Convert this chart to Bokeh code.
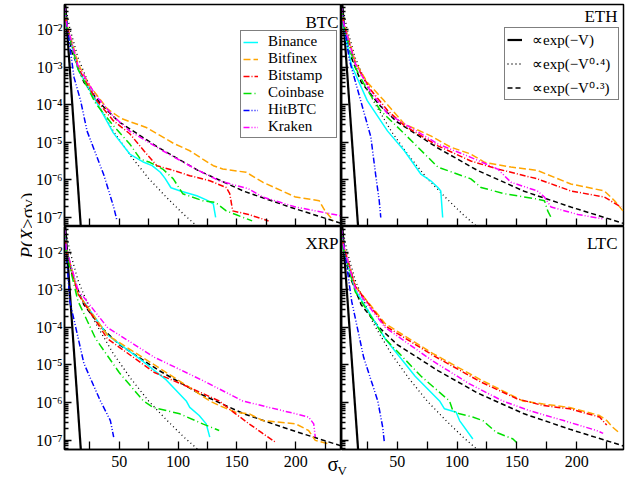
from bokeh.plotting import figure
from bokeh.models import Range1d, FixedTicker, Label, Legend, LegendItem
from bokeh.layouts import row, column
from bokeh.embed import file_html
from bokeh.resources import INLINE

# ---------------- data ----------------
exchanges = ["Binance", "Bitfinex", "Bitstamp", "Coinbase", "HitBTC", "Kraken"]
panel_names = ["BTC", "ETH", "XRP", "LTC"]

x_major_ticks = [50, 100, 150, 200]
x_minor_ticks = [25, 75, 125, 175, 225]
y_major_ticks = [1e-7, 1e-6, 1e-5, 1e-4, 1e-3, 1e-2]
y_tick_labels = ["10⁻⁷", "10⁻⁶", "10⁻⁵", "10⁻⁴", "10⁻³", "10⁻²"]

# reference curves
ref_exp_x = [4, 18]
ref_exp_p = [5.8e-2, 2.9e-8]
ref_s04_x = [4, 8, 15, 30, 45, 60, 75, 90, 105, 120]
ref_s04_p = [5.1e-2, 1.1e-2, 1.8e-3, 1.3e-4, 2.0e-5, 4.3e-6, 1.1e-6, 3.5e-7, 1.2e-7, 4.6e-8]
ref_s03_x = [4, 10, 20, 35, 50, 84, 117, 156, 195, 240]
ref_s03_p = [2.0e-2, 2.5e-3, 4.0e-4, 1.0e-4, 3.5e-5, 7.1e-6, 1.8e-6, 5.0e-7, 1.9e-7, 6.8e-8]

# BTC
btc_binance_x = [3.6, 5, 15, 30, 45, 59, 71, 78, 85, 89, 94, 102, 116, 124, 130, 132]
btc_binance_p = [4.0e-2, 1.4e-2, 8.9e-4, 1.3e-4, 1.8e-5, 4.9e-6, 2.95e-6, 2.4e-6, 1.6e-6, 1.1e-6, 6.2e-7, 5.1e-7, 3.8e-7, 2.95e-7, 2.3e-7, 1.0e-7]
btc_bitfinex_x = [3.6, 5, 15, 25, 40, 52, 73, 96, 110, 121, 130, 138, 158, 172, 200, 220, 225, 232]
btc_bitfinex_p = [4.0e-2, 1.6e-2, 1.26e-3, 3.2e-4, 7.8e-5, 4.3e-5, 2.5e-5, 9.5e-6, 6.0e-6, 3.6e-6, 2.4e-6, 1.95e-6, 1.6e-6, 8.7e-7, 3.5e-7, 2.8e-7, 1.5e-7, 8.3e-8]
btc_bitstamp_x = [3.6, 5, 15, 30, 45, 59, 71, 82, 96, 110, 127, 141, 144, 146.5, 160, 177]
btc_bitstamp_p = [4.0e-2, 1.4e-2, 1.0e-3, 1.4e-4, 3.8e-5, 1.7e-5, 6.0e-6, 2.4e-6, 1.8e-6, 1.3e-6, 9.5e-7, 6.3e-7, 4.3e-7, 1.5e-7, 1.2e-7, 8.1e-8]
btc_coinbase_x = [3.6, 5, 15, 30, 45, 59, 68, 76, 87, 96, 104, 121, 132, 141, 149, 163]
btc_coinbase_p = [4.0e-2, 1.4e-2, 8.9e-4, 1.1e-4, 2.8e-5, 9.1e-6, 3.6e-6, 2.95e-6, 1.95e-6, 1.07e-6, 4.3e-7, 2.8e-7, 2.5e-7, 1.5e-7, 1.2e-7, 8.1e-8]
btc_hitbtc_x = [3.6, 11.6, 17.2, 22.7, 31.2, 36.8, 45.3, 48.1]
btc_hitbtc_p = [4.0e-2, 5.4e-4, 1.3e-4, 2.0e-5, 4.0e-6, 1.4e-6, 1.9e-7, 8.3e-8]
btc_kraken_x = [3.6, 5, 15, 30, 45, 59, 87, 115, 135, 160, 172, 200, 233, 239]
btc_kraken_p = [4.0e-2, 1.6e-2, 1.1e-3, 1.8e-4, 5.0e-5, 2.0e-5, 6.0e-6, 1.95e-6, 9.5e-7, 5.8e-7, 3.5e-7, 1.9e-7, 1.2e-7, 1.1e-7]

# ETH
eth_binance_x = [3.6, 5, 12, 25, 42, 56, 70, 78, 84, 86.4, 88]
eth_binance_p = [4.0e-2, 1.26e-2, 1.1e-3, 1.3e-4, 2.0e-5, 6.0e-6, 1.4e-6, 9.5e-7, 6.3e-7, 5.1e-7, 1.0e-7]
eth_bitfinex_x = [3.6, 5, 15, 25, 39, 56, 78, 95, 111.5, 123, 145, 167, 195, 223, 231.5, 238.5]
eth_bitfinex_p = [4.0e-2, 1.8e-2, 1.4e-3, 4.0e-4, 1.3e-4, 3.1e-5, 1.5e-5, 7.4e-6, 4.9e-6, 2.95e-6, 2.2e-6, 1.8e-6, 7.8e-7, 5.1e-7, 2.8e-7, 1.5e-7]
eth_bitstamp_x = [3.6, 5, 15, 28, 42, 56, 84, 111.5, 134, 145, 167, 195, 223, 237]
eth_bitstamp_p = [4.0e-2, 1.6e-2, 1.26e-3, 2.5e-4, 7.1e-5, 2.8e-5, 8.1e-6, 3.2e-6, 1.95e-6, 1.6e-6, 1.07e-6, 5.1e-7, 3.5e-7, 1.9e-7]
eth_coinbase_x = [3.6, 5, 15, 25, 36, 56, 84, 111.5, 120, 139.5, 167, 173, 175.7, 178.5]
eth_coinbase_p = [4.0e-2, 1.4e-2, 1.0e-3, 2.5e-4, 7.1e-5, 1.7e-5, 2.2e-6, 1.07e-6, 6.3e-7, 4.3e-7, 3.1e-7, 2.8e-7, 1.5e-7, 1.0e-7]
eth_hitbtc_x = [3.6, 10, 19.5, 28, 32, 35, 36.3]
eth_hitbtc_p = [4.0e-2, 1.6e-3, 1.3e-4, 1.4e-5, 1.4e-6, 2.8e-7, 1.0e-7]
eth_kraken_x = [3.6, 5, 15, 28, 42, 70, 84, 111.5, 134, 145, 167, 173, 178.5, 201, 223]
eth_kraken_p = [4.0e-2, 1.6e-2, 1.26e-3, 2.2e-4, 5.8e-5, 1.7e-5, 9.1e-6, 4.0e-6, 1.95e-6, 8.7e-7, 5.1e-7, 3.5e-7, 1.9e-7, 1.2e-7, 9.1e-8]

# XRP
xrp_binance_x = [3.6, 5, 15, 40, 70, 90, 107, 110, 118, 124, 127]
xrp_binance_p = [4.0e-2, 1.26e-2, 7.9e-4, 6.3e-5, 1.26e-5, 4.0e-6, 1.1e-6, 7.4e-7, 4.5e-7, 2.7e-7, 1.2e-7]
xrp_bitfinex_x = [3.6, 5, 15, 40, 80, 110, 127, 135, 149, 160.5, 172, 200, 211, 216.7, 228]
xrp_bitfinex_p = [4.0e-2, 1.26e-2, 7.9e-4, 6.3e-5, 1.0e-5, 2.5e-6, 1.1e-6, 8.3e-7, 5.5e-7, 5.0e-7, 3.3e-7, 2.7e-7, 1.8e-7, 9.8e-8, 7.9e-8]
xrp_bitstamp_x = [3.6, 5, 15, 40, 80, 110, 135, 149, 160.5, 172, 183]
xrp_bitstamp_p = [4.0e-2, 1.0e-2, 7.9e-4, 5.0e-5, 6.3e-6, 2.5e-6, 1.1e-6, 5.0e-7, 2.7e-7, 1.5e-7, 8.7e-8]
xrp_coinbase_x = [3.6, 5, 15, 30, 50, 70.6, 79, 101.5, 121, 135]
xrp_coinbase_p = [4.0e-2, 1.0e-2, 5.0e-4, 5.0e-5, 6.3e-6, 1.1e-6, 7.4e-7, 5.0e-7, 2.7e-7, 1.8e-7]
xrp_hitbtc_x = [3.6, 8, 20, 34, 39.6, 42.5, 45.3]
xrp_hitbtc_p = [4.0e-2, 5.0e-4, 1.1e-5, 1.1e-6, 5.0e-7, 3.3e-7, 1.2e-7]
xrp_kraken_x = [3.6, 5, 15, 40, 80, 120, 155, 200, 211, 215.4, 216.7]
xrp_kraken_p = [4.0e-2, 1.26e-2, 1.0e-3, 1.0e-4, 1.6e-5, 4.0e-6, 1.1e-6, 5.0e-7, 4.1e-7, 2.7e-7, 1.2e-7]

# LTC
ltc_binance_x = [3.6, 5, 15, 40, 65, 85.4, 89.5, 99.3, 102.1, 113.2]
ltc_binance_p = [4.0e-2, 1.26e-2, 1.0e-3, 5.0e-5, 5.0e-6, 1.1e-6, 6.8e-7, 5.5e-7, 3.3e-7, 1.07e-7]
ltc_bitfinex_x = [3.6, 5, 15, 40, 80, 120, 155, 172, 194, 219, 225, 230, 236]
ltc_bitfinex_p = [4.0e-2, 1.6e-2, 1.26e-3, 1.26e-4, 2.0e-5, 4.0e-6, 1.1e-6, 9.1e-7, 7.4e-7, 4.5e-7, 3.3e-7, 2.2e-7, 1.5e-7]
ltc_bitstamp_x = [3.6, 5, 15, 40, 80, 120, 150, 172, 194, 219, 225]
ltc_bitstamp_p = [4.0e-2, 1.6e-2, 1.26e-3, 1.1e-4, 1.8e-5, 3.5e-6, 1.26e-6, 8.3e-7, 6.8e-7, 4.1e-7, 2.5e-7]
ltc_coinbase_x = [3.6, 5, 15, 40, 70, 93.7, 96.5, 102, 113, 121.6, 132.8, 146.7, 149.5]
ltc_coinbase_p = [4.0e-2, 1.26e-2, 8.9e-4, 5.0e-5, 5.0e-6, 1.1e-6, 6.0e-7, 5.0e-7, 4.1e-7, 3.3e-7, 1.6e-7, 1.07e-7, 8.7e-8]
ltc_hitbtc_x = [3.6, 12, 22, 33.8, 37.9, 39.3]
ltc_hitbtc_p = [4.0e-2, 5.0e-4, 1.6e-5, 1.1e-6, 2.2e-7, 8.7e-8]
ltc_kraken_x = [3.6, 5, 15, 40, 80, 110, 138, 161, 189, 216.5, 222]
ltc_kraken_p = [4.0e-2, 1.6e-2, 1.1e-3, 1.0e-4, 1.26e-5, 3.2e-6, 1.1e-6, 6.0e-7, 3.3e-7, 1.8e-7, 1.5e-7]

# ---------------- assemble ----------------
series = {
    "BTC": [(btc_binance_x, btc_binance_p), (btc_bitfinex_x, btc_bitfinex_p), (btc_bitstamp_x, btc_bitstamp_p),
            (btc_coinbase_x, btc_coinbase_p), (btc_hitbtc_x, btc_hitbtc_p), (btc_kraken_x, btc_kraken_p)],
    "ETH": [(eth_binance_x, eth_binance_p), (eth_bitfinex_x, eth_bitfinex_p), (eth_bitstamp_x, eth_bitstamp_p),
            (eth_coinbase_x, eth_coinbase_p), (eth_hitbtc_x, eth_hitbtc_p), (eth_kraken_x, eth_kraken_p)],
    "XRP": [(xrp_binance_x, xrp_binance_p), (xrp_bitfinex_x, xrp_bitfinex_p), (xrp_bitstamp_x, xrp_bitstamp_p),
            (xrp_coinbase_x, xrp_coinbase_p), (xrp_hitbtc_x, xrp_hitbtc_p), (xrp_kraken_x, xrp_kraken_p)],
    "LTC": [(ltc_binance_x, ltc_binance_p), (ltc_bitfinex_x, ltc_bitfinex_p), (ltc_bitstamp_x, ltc_bitstamp_p),
            (ltc_coinbase_x, ltc_coinbase_p), (ltc_hitbtc_x, ltc_hitbtc_p), (ltc_kraken_x, ltc_kraken_p)],
}

colors = ["#00FFFF", "#FFA500", "#FF0000", "#00E000", "#0000FF", "#FF00FF"]
dashes = ["solid", "7 3", "6 2 1 2", "8 3 1 3", "6 2 1 2 1 2", "6 2 1 2 1 2"]

FONT = "Liberation Serif"
X_RANGE = (3.5, 239.0)
Y_RANGE_TOP = (5.75e-8, 4.73e-2)
Y_RANGE_BOTTOM = (5.6e-8, 4.9e-2)

y_minor = [m * 10.0 ** e for e in range(-8, -1) for m in range(2, 10)]

LEFT_BORDER = 29
YLAB_W = 32
LABEL_DROP = {"BTC": 18, "ETH": 12, "XRP": 17, "LTC": 17}


def make_panel(name, top, left):
    fw = 280 if left else 282
    fh = 222 if top else 223
    bl = LEFT_BORDER if left else 0
    br = 0 if left else 4
    bt = 4 if top else 0
    bb = 0 if top else 26
    yr = Y_RANGE_TOP if top else Y_RANGE_BOTTOM
    p = figure(width=fw + bl + br, height=fh + bt + bb,
               x_range=Range1d(*X_RANGE), y_range=Range1d(*yr),
               y_axis_type="log", output_backend="svg", toolbar_location=None,
               min_border_left=bl, min_border_right=br, min_border_top=bt, min_border_bottom=bb)
    p.grid.visible = False
    p.outline_line_color = "black"
    p.outline_line_width = 1.5
    p.background_fill_color = "white"
    p.border_fill_color = "white"

    xa = p.xaxis[0]
    xa.ticker = FixedTicker(ticks=x_major_ticks, minor_ticks=x_minor_ticks)
    ya = p.yaxis[0]
    ya.ticker = FixedTicker(ticks=y_major_ticks, minor_ticks=y_minor)
    ya.major_label_overrides = dict(zip(y_major_ticks, y_tick_labels))
    for ax in (xa, ya):
        ax.axis_line_color = "black"
        ax.axis_line_width = 1.5
        ax.major_tick_line_color = "black"
        ax.minor_tick_line_color = "black"
        ax.major_tick_line_width = 1.3
        ax.minor_tick_line_width = 1.3
        ax.major_tick_out = 0
        ax.minor_tick_out = 0
        ax.major_label_text_font = FONT
        ax.major_label_text_color = "black"
        ax.major_label_text_font_size = "16px"
    xa.major_tick_in = 8
    xa.minor_tick_in = 8
    ya.major_tick_in = 7
    ya.minor_tick_in = 4
    xa.major_label_standoff = 6
    ya.major_label_standoff = 2
    if top:
        xa.major_label_text_color = None
        xa.major_label_standoff = 0
    if not left:
        ya.major_label_text_color = None
        ya.major_label_standoff = 0

    # reference curves
    r_exp = p.line(ref_exp_x, ref_exp_p, line_color="black", line_width=2.2)
    r_04 = p.line(ref_s04_x, ref_s04_p, line_color="black", line_width=1.3, line_dash="1 3")
    r_03 = p.line(ref_s03_x, ref_s03_p, line_color="black", line_width=1.5, line_dash="5 3")

    rends = []
    for (xs, ps), c, d in zip(series[name], colors, dashes):
        rends.append(p.line(xs, ps, line_color=c, line_width=1.5, line_dash=d))

    p.add_layout(Label(x=fw - 6, y=fh - LABEL_DROP[name], x_units="screen", y_units="screen", text=name,
                       text_align="right", text_baseline="alphabetic", text_font=FONT,
                       text_font_size="17px", text_color="black"))
    return p, rends, (r_exp, r_04, r_03)


p_btc, btc_rends, _ = make_panel("BTC", True, True)
p_eth, _, refs = make_panel("ETH", True, False)
p_xrp, _, _ = make_panel("XRP", False, True)
p_ltc, _, _ = make_panel("LTC", False, False)

leg1 = Legend(items=[LegendItem(label=n, renderers=[r]) for n, r in zip(exchanges, btc_rends)],
              location=(176, 88), orientation="vertical")
leg2 = Legend(items=[LegendItem(label="∝exp(−V)", renderers=[refs[0]]),
                     LegendItem(label="∝exp(−V⁰·⁴)", renderers=[refs[1]]),
                     LegendItem(label="∝exp(−V⁰·³)", renderers=[refs[2]])],
              location=(163, 126), orientation="vertical")
for lg, lh, sp, pad, lw in ((leg1, 16, 0, 2, 66), (leg2, 19, 5, 2, 84)):
    lg.label_text_font = FONT
    lg.label_text_font_size = "15px"
    lg.label_text_color = "black"
    lg.label_height = lh
    lg.glyph_height = lh
    lg.glyph_width = 15
    lg.label_standoff = 10
    lg.label_width = lw
    lg.spacing = sp
    lg.padding = pad
    lg.margin = 0
    lg.border_line_color = "black"
    lg.border_line_width = 1
    lg.background_fill_color = "white"
    lg.background_fill_alpha = 1.0
p_btc.add_layout(leg1)
p_eth.add_layout(leg2)

TOTAL_H = (222 + 4) + (223 + 26)

# y-axis label column
ylab = figure(width=YLAB_W, height=TOTAL_H, toolbar_location=None, output_backend="svg",
              min_border=0, x_axis_type=None, y_axis_type=None,
              x_range=Range1d(0, 1), y_range=Range1d(0, 1))
ylab.outline_line_color = None
ylab.border_fill_color = "white"
ylab.background_fill_color = "white"
ANG = 1.5707963267948966
base = TOTAL_H - 258
parts = [("P", "italic", "19px", 27, base), ("(", "normal", "19px", 27, base + 11.6),
         ("X", "italic", "19px", 27, base + 17.9), (">σ", "normal", "19px", 27, base + 29.5),
         ("V", "normal", "13px", 29, base + 50.2), (")", "normal", "19px", 27, base + 59.6)]
for t, st, fs, xx, yy in parts:
    ylab.add_layout(Label(x=xx, y=yy, x_units="screen", y_units="screen", text=t, angle=ANG,
                          text_font=FONT, text_font_style=st, text_font_size=fs,
                          text_align="left", text_baseline="alphabetic", text_color="black"))

# x-axis label sigma_V, overlaid under the panels' shared edge
SIG_H = 34
SIG_W = 40
SIG_TOP = TOTAL_H - SIG_H
sig = figure(width=SIG_W, height=SIG_H, toolbar_location=None, output_backend="svg",
             min_border=0, x_axis_type=None, y_axis_type=None,
             x_range=Range1d(0, 1), y_range=Range1d(0, 1))
sig.outline_line_color = None
sig.border_fill_alpha = 0
sig.background_fill_alpha = 0
sig.margin = (-SIG_H, 0, 0, 318)
sig.add_layout(Label(x=9, y=SIG_H - (463 - SIG_TOP), x_units="screen", y_units="screen",
                     text="σ", text_font=FONT, text_font_size="20px", text_baseline="alphabetic",
                     text_color="black"))
sig.add_layout(Label(x=19, y=SIG_H - (470 - SIG_TOP), x_units="screen", y_units="screen",
                     text="V", text_font=FONT, text_font_size="13px", text_baseline="alphabetic",
                     text_color="black"))

layout = column(row(ylab, column(row(p_btc, p_eth), row(p_xrp, p_ltc))), sig)

open("out.html", "w").write(file_html(layout, INLINE))
